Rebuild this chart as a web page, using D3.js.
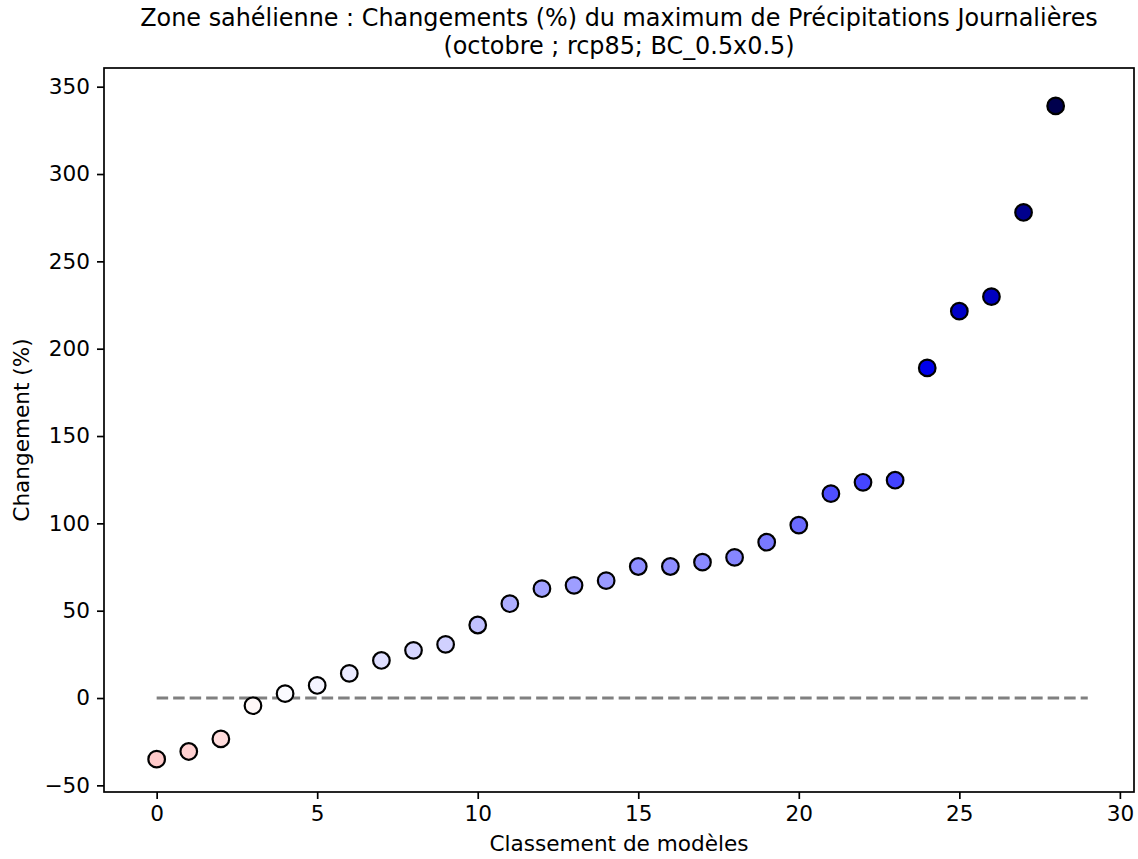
<!DOCTYPE html>
<html><head><meta charset="utf-8">
<script src="https://cdn.jsdelivr.net/npm/d3@7"></script>
<style>body{margin:0;background:#fff}svg{display:block}text{font-family:"DejaVu Sans",sans-serif;fill:#000}</style>
</head><body><svg id="c" width="1138" height="859"></svg>
<script>
const ranks = d3.range(29);
const changes = [-35.0, -30.6, -23.4, -4.4, 2.5, 7.2, 14.1, 21.5, 27.3, 30.7, 41.8, 54.0, 62.6, 64.5, 67.2, 75.3, 75.3, 77.8, 80.5, 89.2, 99.0, 117.0, 123.5, 124.7, 189.0, 221.5, 229.8, 278.0, 339.0];
const xTicks = [0, 5, 10, 15, 20, 25, 30];
const yTicks = [-50, 0, 50, 100, 150, 200, 250, 300, 350];
const titleLines = ["Zone sahélienne : Changements (%) du maximum de Précipitations Journalières", "(octobre ; rcp85; BC_0.5x0.5)"];
const xLabel = "Classement de modèles";
const yLabel = "Changement (%)";

const L = 104, R = 1134, T = 68, B = 792;
const svg = d3.select("#c");
const x = d3.scaleLinear().domain([-1.64, 30.44]).range([L, R]);
const y = d3.scaleLinear().domain([-53.8, 360.7]).range([B, T]);
const vmax = d3.max(changes.map(Math.abs));
const cmap = d3.scaleLinear()
  .domain([-vmax, -vmax/2, 0, vmax/2, vmax])
  .range(["#800000", "#ff0000", "#ffffff", "#0000ff", "#00004d"])
  .interpolate(d3.interpolateRgb);

// zero line
svg.append("line").attr("x1", x(0)).attr("x2", x(29)).attr("y1", y(0)).attr("y2", y(0))
  .attr("stroke", "#808080").attr("stroke-width", 3.1).attr("stroke-dasharray", "11.5,5");

svg.append("g").selectAll("circle").data(ranks).join("circle")
  .attr("cx", d => x(d)).attr("cy", d => y(changes[d])).attr("r", 8.3)
  .attr("fill", d => cmap(changes[d])).attr("stroke", "#000").attr("stroke-width", 2.2);

const fs = "21.6px";
const xa = svg.append("g").attr("transform", `translate(0,${B})`)
  .call(d3.axisBottom(x).tickValues(xTicks).tickFormat(d3.format("d")).tickSizeOuter(0).tickSize(7).tickPadding(7));
const ya = svg.append("g").attr("transform", `translate(${L},0)`)
  .call(d3.axisLeft(y).tickValues(yTicks).tickFormat(d => d < 0 ? "\u2212" + Math.abs(d) : d).tickSizeOuter(0).tickSize(7).tickPadding(7));
[xa, ya].forEach(a => {
  a.select(".domain").remove();
  a.selectAll(".tick line").attr("stroke", "#000").attr("stroke-width", 1.7);
  a.selectAll(".tick text").style("font-size", fs).attr("fill", "#000");
});
svg.append("rect").attr("x", L).attr("y", T).attr("width", R - L).attr("height", B - T)
  .attr("fill", "none").attr("stroke", "#000").attr("stroke-width", 1.7);

svg.append("text").attr("x", (L + R) / 2).attr("y", 851).attr("text-anchor", "middle").style("font-size", fs).text(xLabel);
svg.append("text").attr("transform", `translate(29,${(T + B) / 2}) rotate(-90)`).attr("text-anchor", "middle").style("font-size", fs).text(yLabel);
titleLines.forEach((t, i) => svg.append("text").attr("x", (L + R) / 2).attr("y", 26 + i * 28)
  .attr("text-anchor", "middle").style("font-size", "23.9px").text(t));
</script></body></html>
